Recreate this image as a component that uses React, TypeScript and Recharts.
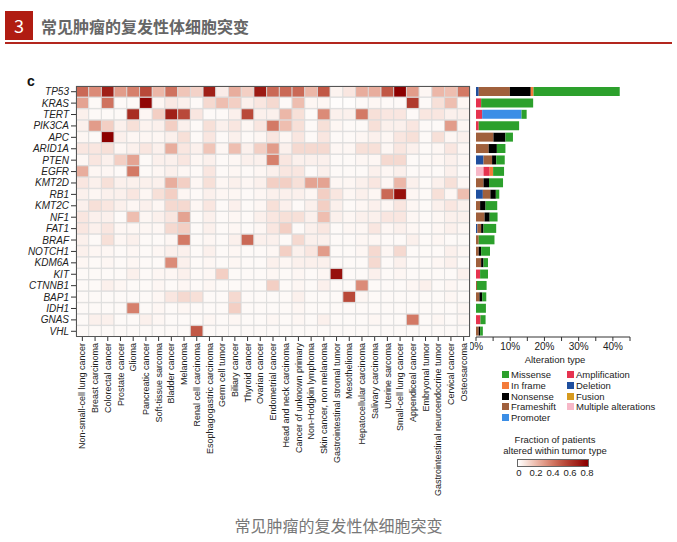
import React from 'react';
import { BarChart, Bar, XAxis, YAxis, Cell } from 'recharts';

const FONT = '"Liberation Sans", Arial, Helvetica, sans-serif';
const CJK = '"Noto Sans CJK SC", "Noto Sans", sans-serif';

const tumorTypes = [
  'Non-small-cell lung cancer', 'Breast carcinoma', 'Colorectal cancer', 'Prostate cancer', 'Glioma',
  'Pancreatic cancer', 'Soft-tissue sarcoma', 'Bladder cancer', 'Melanoma', 'Renal cell carcinoma',
  'Esophagogastric carcinoma', 'Germ cell tumor', 'Biliary cancer', 'Thyroid cancer', 'Ovarian cancer',
  'Endometrial cancer', 'Head and neck carcinoma', 'Cancer of unknown primary', 'Non-Hodgkin lymphoma',
  'Skin cancer, non melanoma', 'Gastrointestinal stromal tumor', 'Mesothelioma', 'Hepatocellular carcinoma',
  'Salivary carcinoma', 'Uterine sarcoma', 'Small-cell lung cancer', 'Appendiceal cancer', 'Embryonal tumor',
  'Gastrointestinal neuroendocrine tumor', 'Cervical cancer', 'Osteosarcoma',
];

const genes = [
  'TP53', 'KRAS', 'TERT', 'PIK3CA', 'APC', 'ARID1A', 'PTEN', 'EGFR', 'KMT2D', 'RB1', 'KMT2C',
  'NF1', 'FAT1', 'BRAF', 'NOTCH1', 'KDM6A', 'KIT', 'CTNNB1', 'BAP1', 'IDH1', 'GNAS', 'VHL',
];

// fraction of patients altered, one value per tumor type (same order as tumorTypes)
const tp53 = [0.45, 0.35, 0.7, 0.3, 0.38, 0.55, 0.22, 0.42, 0.18, 0.14, 0.7, 0.06, 0.25, 0.15, 0.72, 0.45, 0.45, 0.45, 0.22, 0.5, 0.04, 0.08, 0.25, 0.25, 0.5, 0.85, 0.3, 0.03, 0.22, 0.2, 0.4];
const kras = [0.28, 0.02, 0.42, 0.02, 0.02, 0.78, 0.03, 0.07, 0.05, 0.02, 0.12, 0.2, 0.15, 0.05, 0.08, 0.12, 0.02, 0.2, 0.03, 0.03, 0.01, 0.01, 0.02, 0.03, 0.02, 0.02, 0.6, 0.02, 0.1, 0.2, 0.03];
const tert = [0.05, 0.02, 0.02, 0.02, 0.65, 0.03, 0.15, 0.7, 0.55, 0.08, 0.02, 0.02, 0.05, 0.55, 0.05, 0.05, 0.22, 0.1, 0.02, 0.35, 0.05, 0.05, 0.4, 0.1, 0.08, 0.08, 0.02, 0.08, 0.08, 0.05, 0.05];
const pik3ca = [0.05, 0.3, 0.15, 0.05, 0.1, 0.04, 0.05, 0.15, 0.05, 0.02, 0.1, 0.05, 0.08, 0.03, 0.08, 0.4, 0.2, 0.1, 0.02, 0.1, 0.03, 0.02, 0.02, 0.1, 0.05, 0.05, 0.08, 0.02, 0.02, 0.3, 0.03];
const apc = [0.03, 0.02, 0.8, 0.05, 0.03, 0.03, 0.03, 0.05, 0.1, 0.02, 0.08, 0.02, 0.05, 0.02, 0.03, 0.08, 0.03, 0.08, 0.02, 0.08, 0.02, 0.02, 0.03, 0.05, 0.03, 0.08, 0.1, 0.02, 0.1, 0.03, 0.05];
const arid1a = [0.08, 0.08, 0.1, 0.03, 0.05, 0.08, 0.05, 0.25, 0.08, 0.05, 0.18, 0.03, 0.2, 0.05, 0.15, 0.3, 0.05, 0.12, 0.12, 0.12, 0.03, 0.03, 0.1, 0.1, 0.03, 0.08, 0.05, 0.02, 0.03, 0.08, 0.03];
const pten = [0.03, 0.08, 0.05, 0.15, 0.28, 0.02, 0.05, 0.05, 0.08, 0.03, 0.05, 0.02, 0.03, 0.05, 0.05, 0.38, 0.08, 0.05, 0.05, 0.05, 0.02, 0.02, 0.03, 0.03, 0.12, 0.12, 0.02, 0.02, 0.03, 0.05, 0.03];
const egfr = [0.25, 0.03, 0.03, 0.02, 0.4, 0.02, 0.03, 0.05, 0.03, 0.02, 0.08, 0.02, 0.03, 0.02, 0.03, 0.05, 0.08, 0.08, 0.02, 0.05, 0.02, 0.02, 0.02, 0.05, 0.03, 0.05, 0.02, 0.02, 0.02, 0.05, 0.02];
const kmt2d = [0.08, 0.05, 0.1, 0.05, 0.05, 0.05, 0.05, 0.25, 0.15, 0.03, 0.1, 0.03, 0.05, 0.03, 0.05, 0.15, 0.15, 0.1, 0.28, 0.28, 0.03, 0.03, 0.05, 0.08, 0.03, 0.22, 0.05, 0.02, 0.05, 0.1, 0.03];
const rb1 = [0.05, 0.03, 0.05, 0.05, 0.08, 0.03, 0.1, 0.15, 0.03, 0.02, 0.05, 0.03, 0.03, 0.02, 0.03, 0.05, 0.05, 0.05, 0.03, 0.15, 0.08, 0.03, 0.05, 0.03, 0.45, 0.75, 0.03, 0.02, 0.1, 0.03, 0.2];
const kmt2c = [0.05, 0.1, 0.08, 0.05, 0.03, 0.05, 0.03, 0.12, 0.12, 0.03, 0.08, 0.02, 0.05, 0.02, 0.03, 0.1, 0.05, 0.02, 0.05, 0.15, 0.05, 0.02, 0.03, 0.05, 0.03, 0.08, 0.03, 0.02, 0.05, 0.08, 0.05];
const nf1 = [0.08, 0.05, 0.05, 0.02, 0.2, 0.03, 0.05, 0.08, 0.28, 0.02, 0.05, 0.02, 0.03, 0.02, 0.05, 0.08, 0.1, 0.1, 0.05, 0.2, 0.05, 0.03, 0.05, 0.05, 0.08, 0.08, 0.03, 0.02, 0.03, 0.05, 0.05];
const fat1 = [0.08, 0.05, 0.08, 0.03, 0.03, 0.03, 0.03, 0.12, 0.15, 0.02, 0.05, 0.02, 0.03, 0.02, 0.03, 0.08, 0.15, 0.02, 0.05, 0.08, 0.02, 0.03, 0.03, 0.08, 0.03, 0.05, 0.03, 0.02, 0.03, 0.05, 0.03];
const braf = [0.05, 0.02, 0.1, 0.03, 0.05, 0.02, 0.02, 0.03, 0.4, 0.02, 0.03, 0.02, 0.05, 0.45, 0.05, 0.05, 0.02, 0.12, 0.05, 0.05, 0.02, 0.02, 0.03, 0.03, 0.02, 0.02, 0.05, 0.02, 0.03, 0.02, 0.02];
const notch1 = [0.05, 0.03, 0.03, 0.02, 0.03, 0.02, 0.03, 0.05, 0.05, 0.02, 0.05, 0.02, 0.03, 0.02, 0.02, 0.03, 0.15, 0.05, 0.08, 0.3, 0.02, 0.02, 0.03, 0.12, 0.03, 0.12, 0.02, 0.02, 0.02, 0.05, 0.03];
const kdm6a = [0.03, 0.02, 0.03, 0.02, 0.03, 0.02, 0.02, 0.35, 0.05, 0.02, 0.03, 0.02, 0.03, 0.02, 0.02, 0.05, 0.03, 0.05, 0.05, 0.05, 0.02, 0.02, 0.02, 0.12, 0.02, 0.05, 0.02, 0.02, 0.03, 0.05, 0.02];
const kit = [0.02, 0.02, 0.02, 0.02, 0.05, 0.02, 0.03, 0.03, 0.05, 0.02, 0.03, 0.15, 0.02, 0.02, 0.02, 0.03, 0.02, 0.03, 0.02, 0.03, 0.75, 0.02, 0.02, 0.05, 0.02, 0.03, 0.02, 0.02, 0.02, 0.02, 0.05];
const ctnnb1 = [0.02, 0.02, 0.05, 0.03, 0.02, 0.02, 0.03, 0.02, 0.03, 0.02, 0.03, 0.02, 0.02, 0.02, 0.02, 0.15, 0.02, 0.03, 0.02, 0.05, 0.02, 0.02, 0.35, 0.02, 0.02, 0.02, 0.03, 0.05, 0.02, 0.03, 0.02];
const bap1 = [0.02, 0.02, 0.02, 0.02, 0.02, 0.02, 0.03, 0.08, 0.12, 0.1, 0.02, 0.02, 0.12, 0.02, 0.02, 0.02, 0.02, 0.05, 0.02, 0.02, 0.02, 0.55, 0.03, 0.02, 0.02, 0.02, 0.02, 0.02, 0.02, 0.03, 0.02];
const idh1 = [0.02, 0.02, 0.02, 0.02, 0.38, 0.02, 0.03, 0.02, 0.03, 0.02, 0.02, 0.02, 0.15, 0.02, 0.02, 0.02, 0.02, 0.03, 0.02, 0.02, 0.02, 0.02, 0.02, 0.02, 0.02, 0.02, 0.02, 0.02, 0.02, 0.02, 0.03];
const gnas = [0.02, 0.05, 0.05, 0.02, 0.02, 0.05, 0.03, 0.02, 0.02, 0.02, 0.03, 0.02, 0.03, 0.02, 0.02, 0.03, 0.02, 0.03, 0.02, 0.05, 0.02, 0.02, 0.02, 0.03, 0.02, 0.02, 0.4, 0.02, 0.03, 0.02, 0.03];
const vhl = [0.02, 0.02, 0.02, 0.02, 0.02, 0.02, 0.02, 0.02, 0.02, 0.5, 0.02, 0.02, 0.02, 0.02, 0.02, 0.02, 0.02, 0.02, 0.02, 0.02, 0.02, 0.02, 0.02, 0.02, 0.02, 0.02, 0.02, 0.02, 0.02, 0.02, 0.02];

const heatRows = [tp53, kras, tert, pik3ca, apc, arid1a, pten, egfr, kmt2d, rb1, kmt2c, nf1, fat1, braf, notch1, kdm6a, kit, ctnnb1, bap1, idh1, gnas, vhl];

// % of all patients, per gene (same order as genes)
const multipleAlt = [0, 0, 0, 0, 0, 0, 0, 2.2, 0, 0, 0, 0, 0, 0, 0, 0, 0, 0, 0, 0, 0, 0];
const deletion = [0.8, 0, 0, 0, 0, 0, 2.2, 0, 0, 2.0, 0, 0, 0.4, 0, 0, 0, 0, 0, 0, 0, 0, 0];
const amplification = [0, 1.5, 1.8, 0.8, 0, 0, 0, 1.8, 0, 0, 0, 0, 0, 0, 0, 0, 1.2, 0, 0, 0, 1.3, 0];
const promoter = [0, 0, 11.5, 0, 0, 0, 0, 0, 0, 0, 0, 0, 0, 0, 0, 0, 0, 0, 0, 0, 0, 0];
const fusion = [0, 0, 0, 0, 0, 0, 0, 0, 0, 0, 0, 0, 0, 0, 0, 0, 0, 0, 0, 0, 0, 0];
const frameshift = [9.1, 0, 0, 0, 5.1, 3.7, 2.5, 0, 2.2, 2.2, 1.2, 2.5, 1.1, 0.8, 0.8, 1.5, 0, 0.3, 1.0, 0, 0, 0.8];
const nonsense = [6.1, 0, 0, 0, 3.5, 2.4, 1.2, 0, 1.6, 1.6, 1.6, 1.5, 0.7, 0, 0.7, 0.7, 0, 0, 0.8, 0, 0, 0.4];
const inFrame = [0.8, 0, 0, 0, 0, 0, 0, 1.0, 0, 0, 0, 0, 0, 0, 0, 0, 0, 0, 0, 0, 0, 0];
const missense = [25.2, 15.2, 1.5, 11.8, 2.2, 2.5, 2.5, 3.2, 4.1, 1.0, 3.4, 2.3, 3.7, 4.6, 2.6, 1.3, 2.3, 2.8, 1.2, 2.9, 1.5, 0.8];

const pctTicks = [0, 5, 10, 15, 20, 25, 30, 35, 40, 45];
const scaleTicks = [0, 0.2, 0.4, 0.6, 0.8];

const alterationTypes = [
  { key: 'multiple', label: 'Multiple alterations', color: '#f7b8c8', values: multipleAlt },
  { key: 'deletion', label: 'Deletion', color: '#1f4f9e', values: deletion },
  { key: 'amplification', label: 'Amplification', color: '#e6334f', values: amplification },
  { key: 'promoter', label: 'Promoter', color: '#3b8ee6', values: promoter },
  { key: 'fusion', label: 'Fusion', color: '#d69a1f', values: fusion },
  { key: 'frameshift', label: 'Frameshift', color: '#a0603c', values: frameshift },
  { key: 'nonsense', label: 'Nonsense', color: '#000000', values: nonsense },
  { key: 'inframe', label: 'In frame', color: '#f47b3a', values: inFrame },
  { key: 'missense', label: 'Missense', color: '#2ca02c', values: missense },
];

const legendLeft = ['missense', 'inframe', 'nonsense', 'frameshift', 'promoter'];
const legendRight = ['amplification', 'deletion', 'fusion', 'multiple'];

const ramp: [number, number[]][] = [
  [0, [255, 255, 255]],
  [0.1, [247, 224, 216]],
  [0.2, [238, 190, 176]],
  [0.3, [226, 156, 138]],
  [0.4, [211, 121, 101]],
  [0.5, [193, 88, 70]],
  [0.6, [176, 58, 45]],
  [0.7, [160, 32, 24]],
  [0.8, [140, 0, 0]],
];

function fracColor(v: number) {
  const x = Math.max(0, Math.min(0.8, v));
  for (let i = 1; i < ramp.length; i++) {
    const [v1, c1] = ramp[i];
    const [v0, c0] = ramp[i - 1];
    if (x <= v1) {
      const t = (x - v0) / (v1 - v0);
      const c = c0.map((a, k) => Math.round(a + (c1[k] - a) * t));
      return `rgb(${c[0]},${c[1]},${c[2]})`;
    }
  }
  return 'rgb(140,0,0)';
}

const heatData = genes.map((gene) => {
  const row: any = { gene };
  tumorTypes.forEach((_, ti) => {
    row['t' + ti] = 1;
  });
  return row;
});

const altData = genes.map((gene, gi) => {
  const row: any = { gene };
  alterationTypes.forEach((a) => {
    row[a.key] = a.values[gi];
  });
  return row;
});

const tumorTicks = tumorTypes.map((_, i) => i + 0.5);

const GeneTick = (props: any) => {
  const { x, y, payload } = props;
  return (
    <text x={x} y={y} dy="0.35em" textAnchor="end" fontSize={10} fontStyle="italic" fill="#222" fontFamily={FONT}>
      {payload.value}
    </text>
  );
};

const TumorTick = (props: any) => {
  const { x, y, payload } = props;
  const label = tumorTypes[Math.round(payload.value - 0.5)];
  return (
    <text x={x} y={y} dy="0.35em" transform={`rotate(-90 ${x} ${y})`} textAnchor="end" fontSize={9} fill="#222" fontFamily={FONT}>
      {label}
    </text>
  );
};

const colorOf = (key: string) => alterationTypes.find((a) => a.key === key)!;

const LegendItem = ({ k, left, top }: { k: string; left: number; top: number }) => {
  const a = colorOf(k);
  return (
    <div style={{ position: 'absolute', left, top, display: 'flex', alignItems: 'center', fontSize: 9.5, color: '#222', whiteSpace: 'nowrap' }}>
      <span style={{ width: 7, height: 7, background: a.color, marginRight: 2, display: 'inline-block' }} />
      {a.label}
    </div>
  );
};

export default function App() {
  const barLeft = 517;
  const barWidth = 72;
  const gradient = `linear-gradient(to right, ${ramp.map(([v]) => `${fracColor(v)} ${(v / 0.82) * 100}%`).join(', ')}, ${fracColor(0.8)} 100%)`;

  return (
    <div style={{ position: 'absolute', left: 0, top: 0, width: 677, height: 542, background: '#fff', overflow: 'hidden', fontFamily: FONT }}>
      {/* header */}
      <div style={{ position: 'absolute', left: 5, top: 11, width: 28, height: 29, background: '#b01c12', color: '#fff', fontSize: 18, lineHeight: '29px', textAlign: 'center', fontFamily: CJK }}>3</div>
      <div style={{ position: 'absolute', left: 41, top: 15, fontSize: 16, fontWeight: 700, color: '#666', fontFamily: CJK, lineHeight: '22px' }}>常见肿瘤的复发性体细胞突变</div>
      <div style={{ position: 'absolute', left: 5, top: 42, width: 667, height: 2, background: '#b3261e' }} />

      <div style={{ position: 'absolute', left: 27, top: 73, fontSize: 14, fontWeight: 700, color: '#111' }}>c</div>

      {/* heatmap */}
      <div style={{ position: 'absolute', left: 0, top: 0 }}>
        <BarChart layout="vertical" width={480} height={520} data={heatData} margin={{ top: 86, right: 10, bottom: 3, left: 0 }} barCategoryGap={0} barGap={0}>
          <XAxis type="number" domain={[0, 31]} ticks={tumorTicks} interval={0} height={180} tick={<TumorTick />} tickSize={4} axisLine={false} tickLine={{ stroke: '#333' }} />
          <YAxis type="category" dataKey="gene" width={76} interval={0} tick={<GeneTick />} tickSize={5} axisLine={false} tickLine={{ stroke: '#333' }} />
          {tumorTypes.map((t, ti) => (
            <Bar key={t} dataKey={'t' + ti} stackId="h" isAnimationActive={false} stroke="#d9d9d9" strokeWidth={0.8}>
              {genes.map((g, gi) => (
                <Cell key={g} fill={fracColor(heatRows[gi][ti])} />
              ))}
            </Bar>
          ))}
        </BarChart>
      </div>
      <div style={{ position: 'absolute', left: 76, top: 86, width: 394, height: 251, border: '1px solid #555', boxSizing: 'border-box', pointerEvents: 'none' }} />

      {/* alteration bars */}
      <div style={{ position: 'absolute', left: 470, top: 0 }}>
        <BarChart layout="vertical" width={207} height={360} data={altData} margin={{ top: 86, right: 47, bottom: 3, left: 6 }} barCategoryGap={1}>
          <XAxis type="number" domain={[0, 45]} ticks={pctTicks} interval={0} height={20} tickSize={4} stroke="#333"
            tickFormatter={(v: number) => (v % 10 === 0 ? `${v}%` : '')} tick={{ fontSize: 10, fill: '#222', fontFamily: FONT }} />
          <YAxis type="category" dataKey="gene" width={0} tick={false} tickLine={false} axisLine={{ stroke: '#888' }} />
          {alterationTypes.map((a) => (
            <Bar key={a.key} dataKey={a.key} stackId="s" fill={a.color} isAnimationActive={false} />
          ))}
        </BarChart>
      </div>

      {/* legend */}
      <div style={{ position: 'absolute', left: 500, top: 354, width: 110, textAlign: 'center', fontSize: 9.5, color: '#222' }}>Alteration type</div>
      {legendLeft.map((k, i) => (
        <LegendItem key={k} k={k} left={502} top={369 + i * 10.8} />
      ))}
      {legendRight.map((k, i) => (
        <LegendItem key={k} k={k} left={567} top={369 + i * 10.8} />
      ))}

      <div style={{ position: 'absolute', left: 495, top: 434, width: 120, textAlign: 'center', fontSize: 9.5, color: '#222', lineHeight: '11px' }}>
        Fraction of patients
        <br />
        altered within tumor type
      </div>
      <div style={{ position: 'absolute', left: barLeft, top: 459, width: barWidth, height: 8, background: gradient, border: '1px solid #666', boxSizing: 'border-box' }} />
      {scaleTicks.map((v) => (
        <div key={v} style={{ position: 'absolute', left: 519 + (v / 0.8) * 68 - 10, top: 467, width: 20, textAlign: 'center', fontSize: 9.5, color: '#222' }}>
          {v === 0 ? '0' : v.toFixed(1)}
        </div>
      ))}

      {/* caption */}
      <div style={{ position: 'absolute', left: 0, top: 513, width: 677, textAlign: 'center', fontSize: 16, color: '#777', fontFamily: CJK }}>常见肿瘤的复发性体细胞突变</div>
    </div>
  );
}
